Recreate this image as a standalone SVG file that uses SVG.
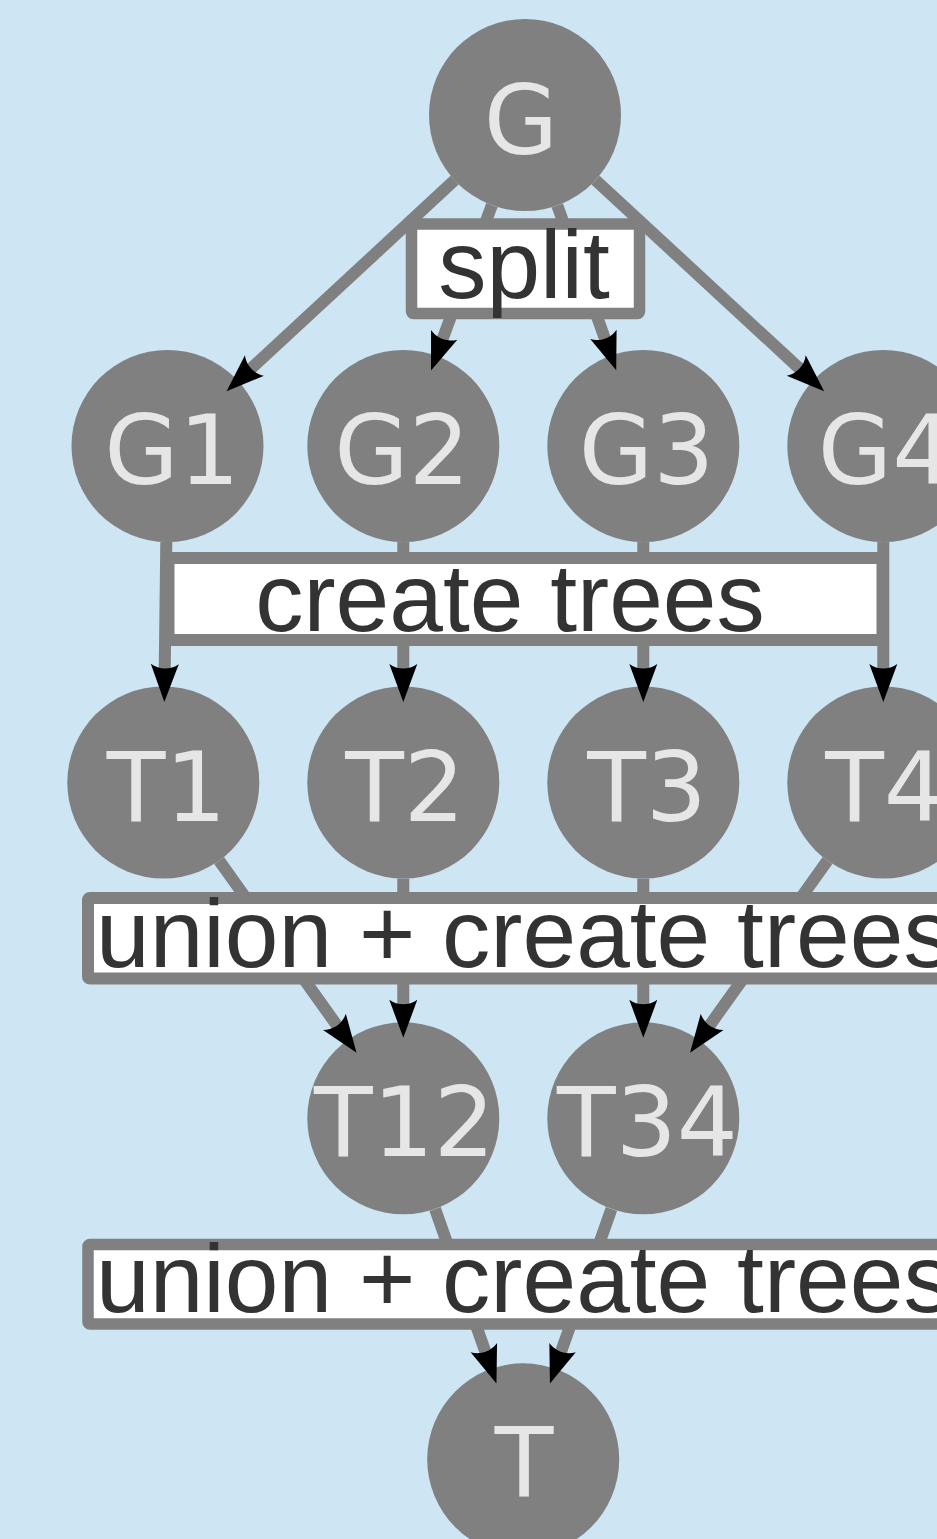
<svg xmlns="http://www.w3.org/2000/svg" width="937" height="1539" viewBox="0 0 937 1539">
  <defs>
    <style>
      .bg { fill: #cee5f3; }
      .node circle { fill: #808080; }
      .node text { font-family: "DejaVu Sans", sans-serif; font-size: 96px; fill: #e6e6e6; text-anchor: middle; }
      .edge { stroke: #808080; stroke-width: 12; fill: none; marker-end: url(#arrow); }
      .box rect { fill: #ffffff; stroke: #808080; stroke-linejoin: round; }
      .box text { font-family: "Liberation Sans", Arial, sans-serif; font-size: 96.5px; fill: #333333; }
    </style>
    <marker id="arrow" markerUnits="userSpaceOnUse" viewBox="-10 -16 42 32" markerWidth="42" markerHeight="32" refX="0" refY="0" orient="auto" overflow="visible">
      <path d="M30,0 L-8,-14 C-2,-5.7 -2,5.7 -8,14 Z" fill="#000000"/>
    </marker>
  </defs>
  <rect class="bg" x="0" y="0" width="937" height="1539"/>

  <g id="nodes">
    <g id="node-G" class="node"><circle cx="525" cy="115" r="96"/><text x="521" y="154">G</text></g>
    <g id="node-G1" class="node"><circle cx="167.5" cy="446" r="96"/><text x="172" y="483.5">G1</text></g>
    <g id="node-G2" class="node"><circle cx="403.3" cy="446" r="96"/><text x="402" y="483.5">G2</text></g>
    <g id="node-G3" class="node"><circle cx="643.3" cy="446" r="96"/><text x="646.5" y="483.5">G3</text></g>
    <g id="node-G4" class="node"><circle cx="883.3" cy="446" r="96"/><text x="885.5" y="483.5">G4</text></g>
    <g id="node-T1" class="node"><circle cx="163.3" cy="782.5" r="96"/><text x="166.5" y="820.5">T1</text></g>
    <g id="node-T2" class="node"><circle cx="403.3" cy="782.5" r="96"/><text x="405" y="820.5">T2</text></g>
    <g id="node-T3" class="node"><circle cx="643.3" cy="782.5" r="96"/><text x="647" y="820.5">T3</text></g>
    <g id="node-T4" class="node"><circle cx="883.3" cy="782.5" r="96"/><text x="885" y="820.5">T4</text></g>
    <g id="node-T12" class="node"><circle cx="403.3" cy="1118.3" r="96"/><text x="404.5" y="1156">T12</text></g>
    <g id="node-T34" class="node"><circle cx="643.3" cy="1118.3" r="96"/><text x="647.5" y="1156">T34</text></g>
    <g id="node-T" class="node"><circle cx="523.2" cy="1459.3" r="96"/><text x="524" y="1496">T</text></g>
  </g>

  <g id="connectors">
    <line class="edge" x1="454.6" y1="180.2" x2="248.6" y2="370.9"/>
    <line class="edge" x1="491.9" y1="205.1" x2="441.4" y2="342.3"/>
    <line class="edge" x1="557.3" y1="205.4" x2="606.1" y2="341.9"/>
    <line class="edge" x1="595.5" y1="180.1" x2="802.1" y2="371.0"/>
    <line class="edge" x1="166.3" y1="542" x2="164.7" y2="672"/>
    <line class="edge" x1="403.3" y1="542" x2="403.3" y2="672"/>
    <line class="edge" x1="643.3" y1="542" x2="643.3" y2="672"/>
    <line class="edge" x1="883.3" y1="542" x2="883.3" y2="672"/>
    <line class="edge" x1="219.1" y1="860.6" x2="339.1" y2="1028.4"/>
    <line class="edge" x1="403.3" y1="878.5" x2="403.3" y2="1007.8"/>
    <line class="edge" x1="643.3" y1="878.5" x2="643.3" y2="1007.8"/>
    <line class="edge" x1="827.5" y1="860.6" x2="707.5" y2="1028.4"/>
    <line class="edge" x1="435.1" y1="1208.9" x2="486.5" y2="1355.1"/>
    <line class="edge" x1="611.4" y1="1208.9" x2="559.9" y2="1355.1"/>
  </g>

  <g id="labels">
    <g id="label-split" class="box">
      <rect x="411.5" y="224" width="228" height="89.5" rx="2" stroke-width="11.5"/>
      <text x="524" y="298" text-anchor="middle">split</text>
    </g>
    <g id="label-create" class="box">
      <rect x="168.5" y="558" width="714" height="82" stroke-width="12"/>
      <text x="510" y="631" text-anchor="middle">create trees</text>
    </g>
    <g id="label-union1" class="box">
      <rect x="88" y="898" width="900" height="80.5" rx="2" stroke-width="12"/>
      <text x="96" y="967">union + create trees</text>
    </g>
    <g id="label-union2" class="box">
      <rect x="88" y="1244.5" width="900" height="79.5" rx="2" stroke-width="11.5"/>
      <text x="96" y="1312">union + create trees</text>
    </g>
  </g>
</svg>
